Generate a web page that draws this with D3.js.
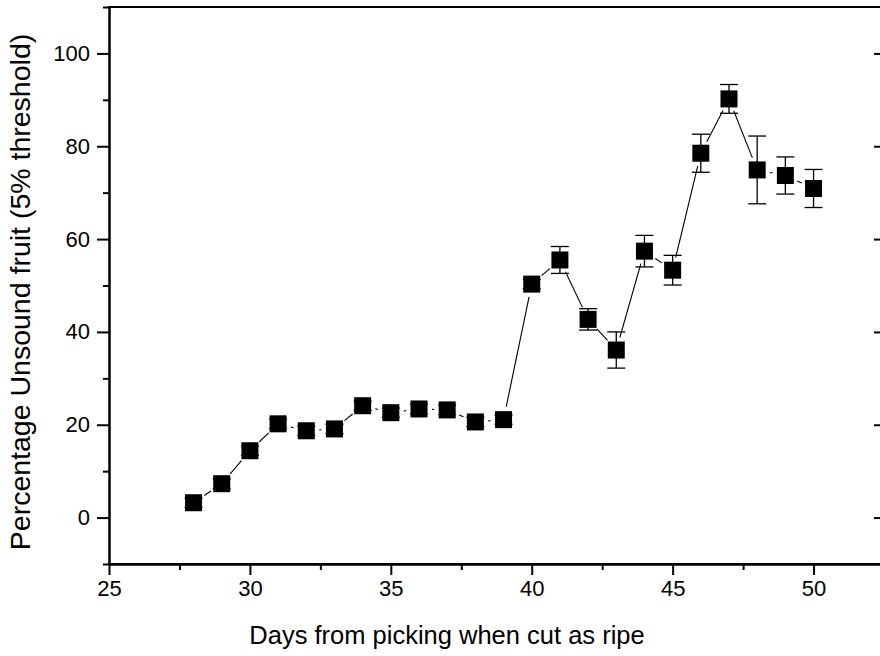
<!DOCTYPE html>
<html><head><meta charset="utf-8">
<script src="https://cdn.jsdelivr.net/npm/d3@7"></script>
<style>body{margin:0;background:#fff;} svg{display:block;}</style>
</head><body>
<svg id="c" width="880" height="656"></svg>
<script>
const days = [28,29,30,31,32,33,34,35,36,37,38,39,40,41,42,43,44,45,46,47,48,49,50];
const unsound = [3.2,7.3,14.4,20.2,18.7,19.1,24.1,22.6,23.4,23.2,20.6,21.1,50.3,55.5,42.7,36.1,57.4,53.3,78.5,90.2,74.9,73.7,70.9];
const errors = [1,1,1,1,1,1,1,1,1,1,1,1,1,2.9,2.3,3.9,3.4,3.2,4.1,3.1,7.3,4.0,4.1];
const xTicks = [25,30,35,40,45,50];
const xMinor = [27.5,32.5,37.5,42.5,47.5,52.5];
const yTicks = [0,20,40,60,80,100];
const yMinor = [-10,10,30,50,70,90,110];
const xTitle = "Days from picking when cut as ripe";
const yTitle = "Percentage Unsound fruit (5% threshold)";

const svg = d3.select("#c");
const L = 109, R = 884, T = 7, B = 564;
const x = d3.scaleLinear().domain([25,52.5]).range([L,R]);
const y = d3.scaleLinear().domain([-10,110]).range([B,T]);
const font = "'Liberation Sans', Arial, sans-serif";

// axes
const gx = svg.append("g").attr("transform",`translate(0,${B})`)
  .call(d3.axisBottom(x).tickValues(xTicks).tickSize(11).tickSizeOuter(0).tickPadding(5).tickFormat(d3.format("d")));
gx.append("g").call(d3.axisBottom(x).tickValues(xMinor).tickSize(6).tickSizeOuter(0).tickFormat(""));
const gy = svg.append("g").attr("transform",`translate(${L},0)`)
  .call(d3.axisLeft(y).tickValues(yTicks).tickSize(12).tickSizeOuter(0).tickPadding(7).tickFormat(d3.format("d")));
gy.append("g").call(d3.axisLeft(y).tickValues(yMinor).tickSize(6).tickSizeOuter(0).tickFormat(""));
const gr = svg.append("g").attr("transform",`translate(${R},0)`)
  .call(d3.axisLeft(y).tickValues(yTicks).tickSize(10).tickSizeOuter(0).tickFormat(""));
gr.selectAll(".tick line").attr("x2",-10);
svg.selectAll(".domain").attr("stroke","#000").attr("stroke-width",2);
svg.selectAll(".tick line").attr("stroke","#000").attr("stroke-width",2);
svg.selectAll(".tick text").attr("font-family",font).attr("font-size",22).attr("fill","#000");
// frame
svg.append("line").attr("x1",x(25)-1).attr("x2",x(52.5)).attr("y1",y(110)).attr("y2",y(110))
  .attr("stroke","#000").attr("stroke-width",2);
svg.append("line").attr("x1",x(52.5)).attr("x2",x(52.5)).attr("y1",y(110)).attr("y2",y(-10))
  .attr("stroke","#000").attr("stroke-width",2);
svg.append("line").attr("x1",x(25)-1).attr("x2",x(52.5)).attr("y1",y(-10)).attr("y2",y(-10))
  .attr("stroke","#000").attr("stroke-width",2);

const pts = days.map((d,i)=>({px:x(d),py:y(unsound[i]),e:errors[i],v:unsound[i]}));
// connecting line with gaps around symbols
const gap = 13;
const segs = [];
for(let i=0;i<pts.length-1;i++){
  const a=pts[i], b=pts[i+1];
  const dx=b.px-a.px, dy=b.py-a.py, len=Math.hypot(dx,dy);
  if(len>2*gap){
    const ux=dx/len, uy=dy/len;
    segs.push([a.px+ux*gap,a.py+uy*gap,b.px-ux*gap,b.py-uy*gap]);
  }
}
svg.append("g").selectAll("line").data(segs).join("line")
  .attr("x1",d=>d[0]).attr("y1",d=>d[1]).attr("x2",d=>d[2]).attr("y2",d=>d[3])
  .attr("stroke","#000").attr("stroke-width",1.1);

// error bars
const eb = svg.append("g").attr("stroke","#000").attr("stroke-width",1.3);
days.forEach((d,i)=>{
  const cx=x(d), y1=y(unsound[i]+errors[i]), y2=y(unsound[i]-errors[i]);
  eb.append("line").attr("x1",cx).attr("x2",cx).attr("y1",y1).attr("y2",y2);
  eb.append("line").attr("x1",cx-9).attr("x2",cx+9).attr("y1",y1).attr("y2",y1);
  eb.append("line").attr("x1",cx-9).attr("x2",cx+9).attr("y1",y2).attr("y2",y2);
});

// markers
const s = 17;
svg.append("g").selectAll("rect").data(pts).join("rect")
  .attr("x",d=>d.px-s/2).attr("y",d=>d.py-s/2).attr("width",s).attr("height",s)
  .attr("fill","#000");

// titles
svg.append("text").attr("x",447).attr("y",644).attr("text-anchor","middle")
  .attr("font-family",font).attr("font-size",25.5).text(xTitle);
svg.append("text").attr("transform",`translate(30,292) rotate(-90)`).attr("text-anchor","middle")
  .attr("font-family",font).attr("font-size",28.5).text(yTitle);
</script>
</body></html>
